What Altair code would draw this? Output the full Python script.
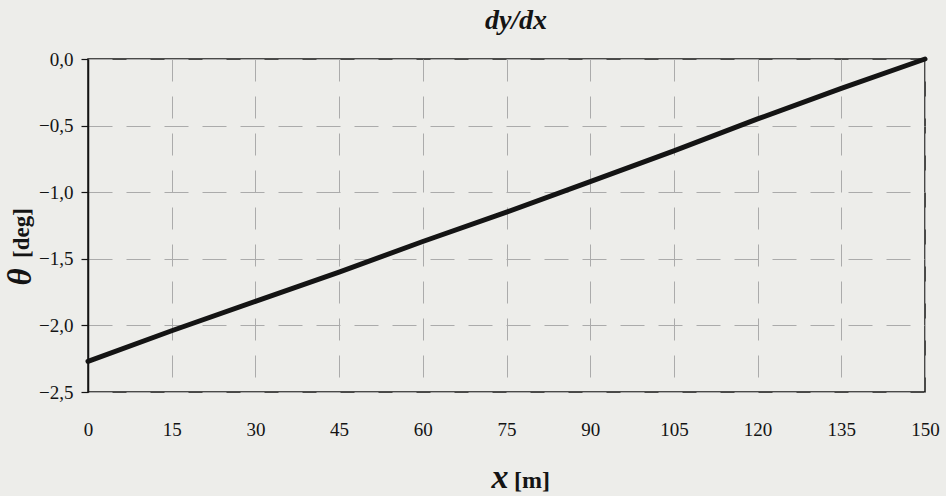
import altair as alt
import pandas as pd

# ---- data ----
x_m = [0, 15, 30, 45, 60, 75, 90, 105, 120, 135, 150]
theta_deg = [-2.27, -2.04, -1.82, -1.60, -1.37, -1.15, -0.92, -0.69, -0.45, -0.22, 0.0]
x_ticks = [0, 15, 30, 45, 60, 75, 90, 105, 120, 135, 150]
y_ticks = [0.0, -0.5, -1.0, -1.5, -2.0, -2.5]
chart_title = ["dy/dx"]
y_title_sym = ["θ"]
y_title_unit = ["[deg]"]
x_title_sym = ["x"]
x_title_unit = ["[m]"]

df = pd.DataFrame({"x": x_m, "theta": theta_deg})

FONT = "Liberation Serif"
INK = "#141414"
BG = "#ededea"
GRID = "#ababab"

comma_fmt = "replace(format(datum.value, '.1f'), '.', ',')"

base_x = alt.X(
    "x:Q",
    scale=alt.Scale(domain=[0, 150], nice=False, zero=False),
    axis=alt.Axis(
        values=x_ticks, title=None, grid=True, ticks=False, domain=False,
        labelPadding=28, labelFont=FONT, labelFontSize=19, labelColor=INK,
        gridDash=[22, 15], gridColor=GRID, gridWidth=1, labelFlush=False,
    ),
)
base_y = alt.Y(
    "theta:Q",
    scale=alt.Scale(domain=[-2.5, 0], nice=False, zero=False),
    axis=alt.Axis(
        values=y_ticks, title=None, grid=True, ticks=True, tickSize=7,
        tickColor=INK, tickWidth=1.2, domain=True, domainColor=INK,
        domainWidth=1.5, labelPadding=8, labelFont=FONT, labelFontSize=19,
        labelColor=INK, labelExpr=comma_fmt, gridDash=[24, 14],
        gridColor=GRID, gridWidth=1, labelFlush=False,
    ),
)

line = alt.Chart(df).mark_line(color=INK, strokeWidth=5, strokeCap="round").encode(
    x=base_x, y=base_y
)

title_txt = alt.Chart(pd.DataFrame({"t": chart_title})).mark_text(
    font=FONT, fontSize=28, fontStyle="italic", fontWeight="bold",
    align="center", baseline="alphabetic", color=INK,
).encode(text="t:N", x=alt.value(428), y=alt.value(-30))

ysym = alt.Chart(pd.DataFrame({"t": y_title_sym})).mark_text(
    angle=270, font=FONT, fontSize=33, fontStyle="italic", fontWeight="bold",
    align="center", baseline="middle", color=INK,
).encode(text="t:N", x=alt.value(-67), y=alt.value(218))

yunit = alt.Chart(pd.DataFrame({"t": y_title_unit})).mark_text(
    angle=270, font=FONT, fontSize=23, fontWeight="bold",
    align="center", baseline="middle", color=INK,
).encode(text="t:N", x=alt.value(-66), y=alt.value(174))

xsym = alt.Chart(pd.DataFrame({"t": x_title_sym})).mark_text(
    font=FONT, fontSize=34, fontStyle="italic", fontWeight="bold",
    align="center", baseline="alphabetic", color=INK,
).encode(text="t:N", x=alt.value(412), y=alt.value(429))

xunit = alt.Chart(pd.DataFrame({"t": x_title_unit})).mark_text(
    font=FONT, fontSize=24, fontWeight="bold",
    align="left", baseline="alphabetic", color=INK,
).encode(text="t:N", x=alt.value(426), y=alt.value(429))

chart = (
    alt.layer(line, title_txt, ysym, yunit, xsym, xunit)
    .properties(
        width=837,
        height=333,
        autosize=alt.AutoSizeParams(type="none"),
        padding={"left": 88, "top": 59, "right": 21, "bottom": 104},
    )
    .configure(background=BG)
    .configure_view(stroke=INK, strokeWidth=1.5)
)

chart.save("out.html", embed_options={"renderer": "svg", "actions": False})
